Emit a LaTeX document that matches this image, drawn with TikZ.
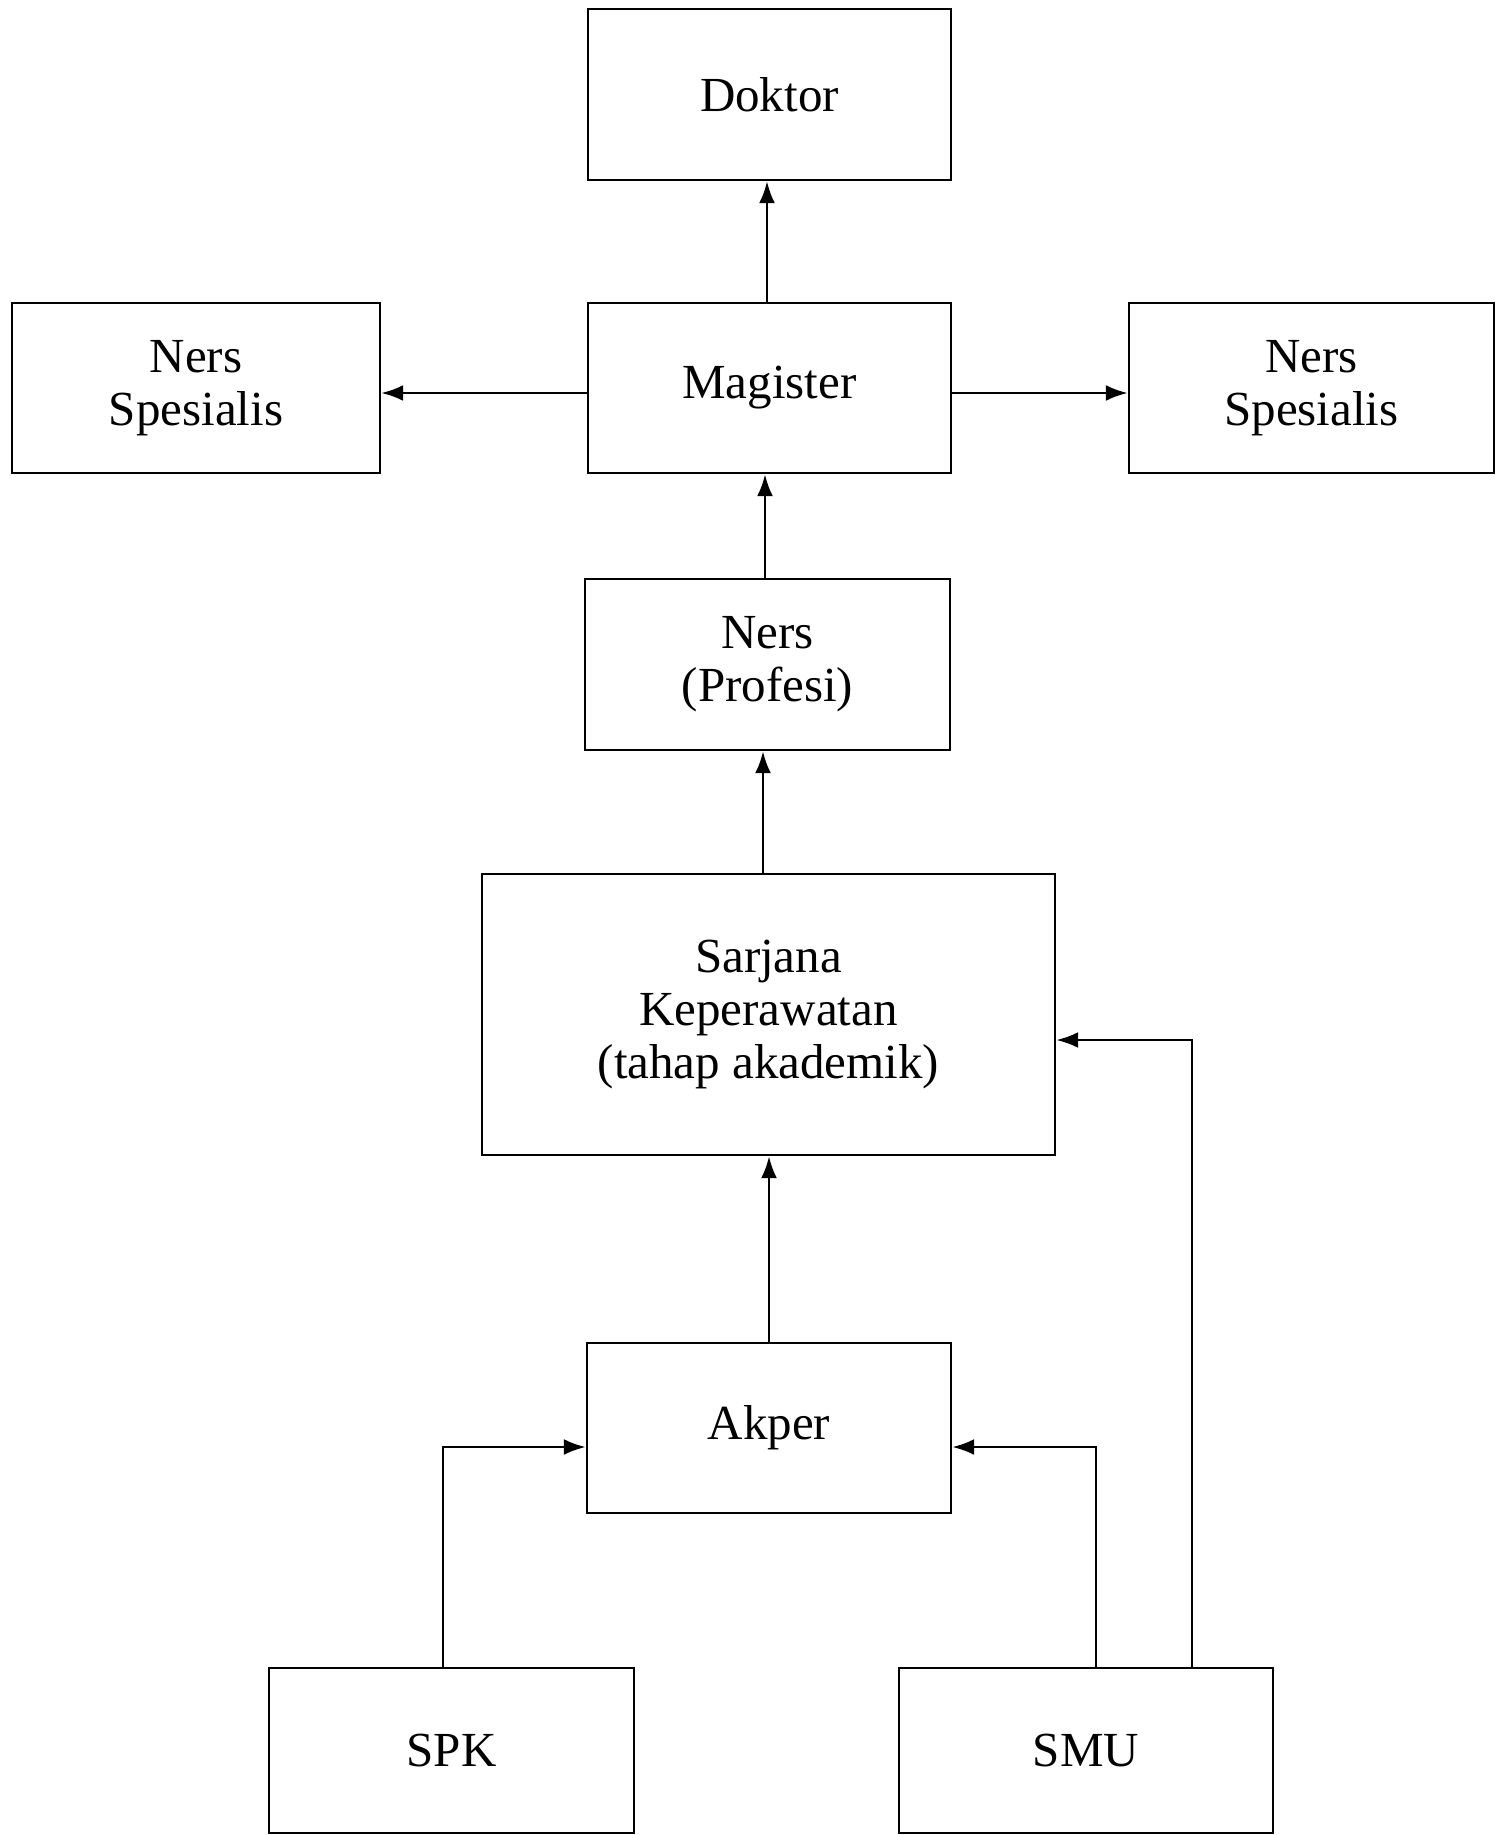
\documentclass[tikz,border=0pt]{standalone}
\usepackage{fontspec}
\setmainfont{Liberation Serif}
\usetikzlibrary{arrows.meta}
\begin{document}
\begin{tikzpicture}[x=0.5pt,y=-0.5pt,
  box/.style={draw, line width=1.2pt, rectangle, align=center, inner sep=0pt,
    font=\fontsize{24.5}{26.5}\selectfont},
  arr/.style={line width=1.4pt, -{Latex[length=11pt,width=8pt]}}]
\useasboundingbox[fill=white] (0,0) rectangle (1495,1835);
% boxes
\node[box, minimum width=181.5pt, minimum height=85.5pt] (doktor) at (769.5,94.5) {Doktor};
\node[box, minimum width=181.5pt, minimum height=85pt] (magister) at (769.5,388) {Magister};
\node[box, minimum width=184pt, minimum height=85pt] (nsl) at (196,388) {Ners\\Spesialis};
\node[box, minimum width=182.5pt, minimum height=85pt] (nsr) at (1311.5,388) {Ners\\Spesialis};
\node[box, minimum width=182.5pt, minimum height=85.5pt] (ners) at (767.5,664.5) {Ners\\(Profesi)};
\node[box, minimum width=286.5pt, minimum height=140.5pt] (sarjana) at (768.5,1014.5) {Sarjana\\Keperawatan\\(tahap akademik)};
\node[box, minimum width=182pt, minimum height=85pt] (akper) at (769,1428) {Akper};
\node[box, minimum width=182.5pt, minimum height=82.5pt] (spk) at (451.5,1750.5) {SPK};
\node[box, minimum width=187pt, minimum height=82.5pt] (smu) at (1086,1750.5) {SMU};
% helper coordinates
\coordinate (hside) at (0,393);
\coordinate (v1) at (767,0);
\coordinate (v2) at (765,0);
\coordinate (v3) at (763,0);
\coordinate (v4) at (769,0);
\coordinate (cA) at (443,1447);
\coordinate (cB) at (1096,1447);
\coordinate (cC) at (1192,1040);
% connectors
\draw[arr] (magister.north -| v1) -- (doktor.south -| v1);
\draw[arr] (magister.west |- hside) -- (nsl.east |- hside);
\draw[arr] (magister.east |- hside) -- (nsr.west |- hside);
\draw[arr] (ners.north -| v2) -- (magister.south -| v2);
\draw[arr] (sarjana.north -| v3) -- (ners.south -| v3);
\draw[arr] (akper.north -| v4) -- (sarjana.south -| v4);
\draw[arr] (spk.north -| cA) |- (akper.west |- cA);
\draw[arr] (smu.north -| cB) |- (akper.east |- cB);
\draw[arr] (smu.north -| cC) |- (sarjana.east |- cC);
\end{tikzpicture}
\end{document}
